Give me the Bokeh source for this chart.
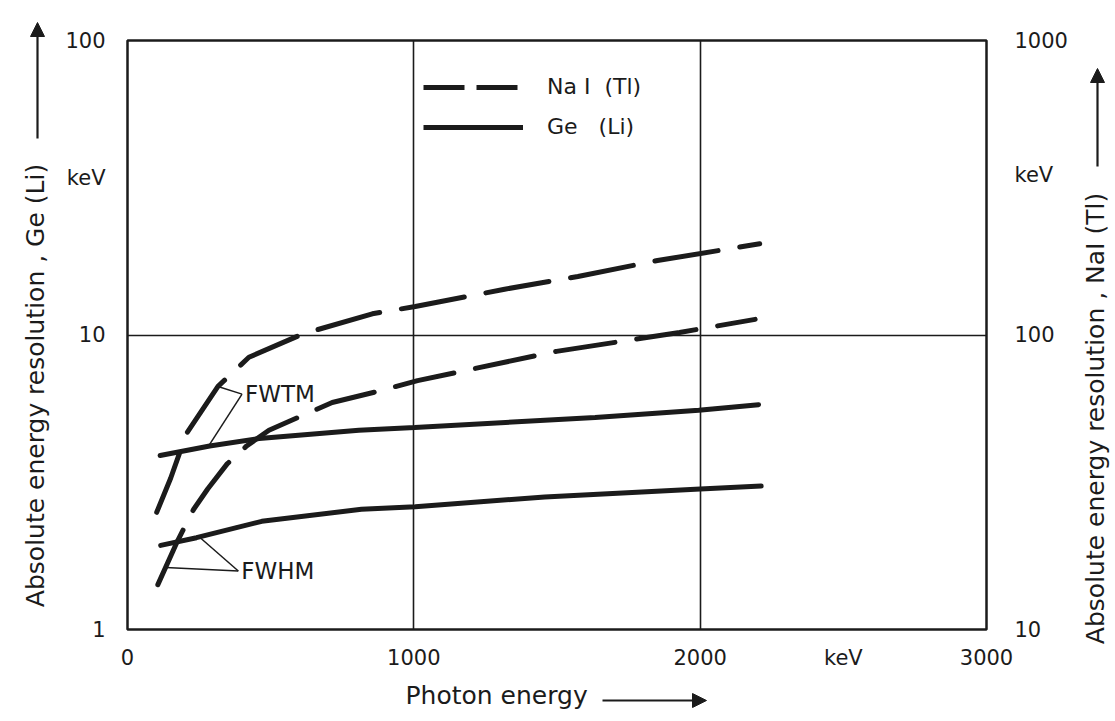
import numpy as np
from bokeh.plotting import figure
from bokeh.layouts import row, column
from bokeh.models import (Range1d, LogScale, LogAxis, FixedTicker, Label, Arrow,
                          NormalHead, Legend, LegendItem)
from bokeh.embed import file_html
from bokeh.resources import INLINE

# ---------------- data ----------------
# Photon energy in keV; Ge(Li) resolution in keV (left axis), NaI(Tl) resolution in keV (right axis)
ge_fwtm_x = [114, 287, 460, 808, 1003, 1633, 1995, 2204]
ge_fwtm_y = [3.9, 4.2, 4.45, 4.75, 4.85, 5.25, 5.55, 5.8]

ge_fwhm_x = [116, 241, 469, 817, 1005, 1457, 2000, 2213]
ge_fwhm_y = [1.93, 2.05, 2.33, 2.56, 2.61, 2.82, 3.0, 3.07]

nai_fwtm_x = [102, 151, 206, 316, 424, 614, 855, 1005, 1317, 1573, 1851, 2208]
nai_fwtm_y = [25, 32.7, 46.3, 66.9, 84, 101, 118, 125, 143, 158, 179, 204]

nai_fwhm_x = [106, 175, 230, 280, 348, 416, 494, 715, 864, 1013, 1498, 1928, 2192]
nai_fwhm_y = [14.2, 20, 25.5, 30, 36.5, 42, 47.5, 59, 64, 70, 88, 102, 113]

x_ticks = [0, 1000, 2000, 2500, 3000]
x_tick_labels = ["0", "1000", "2000", "keV", "3000"]
left_ticks = [1, 10, 34, 100]
left_tick_labels = ["1", "10", "keV", "100"]
right_ticks = [10, 100, 350, 1000]
right_tick_labels = ["10", "100", "keV", "1000"]

left_title = "Absolute energy resolution , Ge (Li)"
right_title = "Absolute energy resolution , NaI (Tl)"
bottom_title = "Photon energy"

FONT = "DejaVu Sans"
INK = "#1b1b1b"

W, H = 1115, 721
LEFT_W, RIGHT_W, BOTTOM_H = 62, 45, 49
MAIN_W = W - LEFT_W - RIGHT_W
MAIN_H = H - BOTTOM_H

p = figure(width=MAIN_W, height=MAIN_H, x_range=Range1d(0, 3000), y_range=Range1d(1, 100),
           y_axis_type="log", output_backend="svg", toolbar_location=None,
           min_border_left=126 - LEFT_W, min_border_right=LEFT_W + MAIN_W - 986,
           min_border_top=40, min_border_bottom=MAIN_H - 629,
           background_fill_color="white", border_fill_color="white")
p.extra_y_ranges = {"nai": Range1d(10, 1000)}
p.extra_y_scales = {"nai": LogScale()}

p.outline_line_color = INK
p.outline_line_width = 2.5
p.outline_line_alpha = 1

# grid
p.xgrid.ticker = FixedTicker(ticks=[1000, 2000])
p.ygrid.ticker = FixedTicker(ticks=[10])
for g in (p.xgrid, p.ygrid):
    g.grid_line_color = INK
    g.grid_line_width = 1.6
    g.grid_line_alpha = 1

def style_axis(ax, ticks, labels, standoff):
    ax.ticker = FixedTicker(ticks=ticks)
    ax.major_label_overrides = {t: l for t, l in zip(ticks, labels)}
    ax.axis_line_color = None
    ax.major_tick_line_color = None
    ax.minor_tick_line_color = None
    ax.major_label_text_font = FONT
    ax.major_label_text_font_size = "21px"
    ax.major_label_text_color = INK
    ax.major_label_standoff = standoff

style_axis(p.xaxis[0], x_ticks, x_tick_labels, 10)
style_axis(p.yaxis[0], left_ticks, left_tick_labels, 16)
right_axis = LogAxis(y_range_name="nai")
style_axis(right_axis, right_ticks, right_tick_labels, 22)
p.add_layout(right_axis, "right")

# curves
lw = 5
p.line(ge_fwtm_x, ge_fwtm_y, line_color=INK, line_width=lw, line_cap="round")
p.line(ge_fwhm_x, ge_fwhm_y, line_color=INK, line_width=lw, line_cap="round")
p.line(nai_fwtm_x, nai_fwtm_y, y_range_name="nai", line_color=INK, line_width=lw,
       line_dash="64 22", line_cap="round")
p.line(nai_fwhm_x, nai_fwhm_y, y_range_name="nai", line_color=INK, line_width=lw,
       line_dash="60 22", line_cap="round")

# legend (legend-only renderers, no visible data)
leg_dash = p.line([np.nan, np.nan], [np.nan, np.nan], line_color=INK, line_width=lw, line_dash="41 12")
leg_solid = p.line([np.nan, np.nan], [np.nan, np.nan], line_color=INK, line_width=lw)
legend = Legend(items=[LegendItem(label="Na I\u00a0\u00a0(Tl)", renderers=[leg_dash]),
                       LegendItem(label="Ge\u00a0\u00a0\u00a0(Li)", renderers=[leg_solid])],
                location=(296, 490), glyph_width=100, glyph_height=24, label_height=24,
                label_standoff=24, spacing=15, padding=0, margin=0,
                border_line_color=None, background_fill_alpha=0,
                label_text_font=FONT, label_text_font_size="22px", label_text_color=INK)
p.add_layout(legend)

# FWTM / FWHM annotations with leader lines
def logi(x, xs, ys):
    return float(10 ** np.interp(x, xs, np.log10(ys)))

fwtm_anchor = (400, 6.3)
fwhm_anchor = (387, 1.58)
seg_x0 = [316, fwtm_anchor[0], 133, fwhm_anchor[0]]
seg_y0 = [logi(316, nai_fwtm_x, nai_fwtm_y) / 10, fwtm_anchor[1],
          logi(133, nai_fwhm_x, nai_fwhm_y) / 10, fwhm_anchor[1]]
seg_x1 = [fwtm_anchor[0], 283, fwhm_anchor[0], 251]
seg_y1 = [fwtm_anchor[1], logi(283, ge_fwtm_x, ge_fwtm_y),
          fwhm_anchor[1], logi(251, ge_fwhm_x, ge_fwhm_y)]
p.segment(seg_x0, seg_y0, seg_x1, seg_y1, line_color=INK, line_width=1.5)

for (ax_, ay_), txt in ((fwtm_anchor, "FWTM"), (fwhm_anchor, "FWHM")):
    p.add_layout(Label(x=ax_, y=ay_, text=txt, x_offset=3, text_align="left",
                       text_baseline="middle", text_font=FONT, text_font_size="23px",
                       text_color=INK))

# ---------- side panels holding the axis titles and their arrows ----------
def side_panel(w, h):
    f = figure(width=w, height=h, x_range=Range1d(0, w), y_range=Range1d(h, 0),
               output_backend="svg", toolbar_location=None, min_border=0,
               x_axis_location=None, y_axis_location=None,
               background_fill_color="white", border_fill_color="white")
    f.outline_line_color = None
    f.xgrid.visible = False
    f.ygrid.visible = False
    if "frame_align" in f.properties():
        f.frame_align = False
    return f

def head():
    return NormalHead(size=14, fill_color=INK, line_color=INK, line_width=1)

TITLE_SIZE = "25px"

lp = side_panel(LEFT_W, MAIN_H)
lp.add_layout(Label(x=35, y=385, text=left_title, angle=np.pi / 2, text_align="center",
                    text_baseline="middle", text_font=FONT, text_font_size=TITLE_SIZE,
                    text_color=INK))
lp.add_layout(Arrow(x_start=37, y_start=138, x_end=37, y_end=22, line_width=2.2,
                    line_color=INK, end=head()))

rp = side_panel(RIGHT_W, MAIN_H)
rp.add_layout(Label(x=25, y=418, text=right_title, angle=np.pi / 2, text_align="center",
                    text_baseline="middle", text_font=FONT, text_font_size=TITLE_SIZE,
                    text_color=INK))
rp.add_layout(Arrow(x_start=27, y_start=166, x_end=27, y_end=68, line_width=2.2,
                    line_color=INK, end=head()))

bp = side_panel(W, BOTTOM_H)
bp.add_layout(Label(x=405, y=23, text=bottom_title, text_align="left",
                    text_baseline="middle", text_font=FONT, text_font_size=TITLE_SIZE,
                    text_color=INK))
bp.add_layout(Arrow(x_start=602, y_start=28, x_end=706, y_end=28, line_width=2.2,
                    line_color=INK, end=head()))

layout = column(row(lp, p, rp, spacing=0), bp, spacing=0)
open("out.html", "w").write(file_html(layout, INLINE))
